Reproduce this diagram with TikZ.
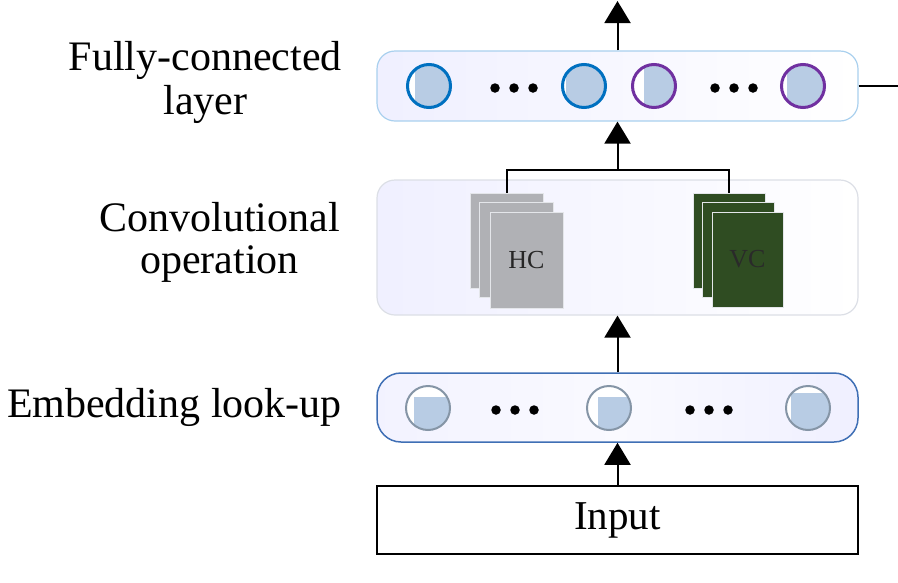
\documentclass[tikz,border=0pt]{standalone}
\usepackage{fontspec}
\setmainfont{Liberation Serif}
\usetikzlibrary{arrows.meta}
\definecolor{fcblue}{HTML}{0070C0}
\definecolor{fcpurple}{HTML}{7030A0}
\definecolor{cfill}{HTML}{B8CCE4}
\definecolor{embring}{HTML}{8595A6}
\definecolor{fcborder}{HTML}{A9D0EE}
\definecolor{convborder}{HTML}{DCDFE6}
\definecolor{embborder}{HTML}{3F6FB5}
\definecolor{hcgray}{HTML}{B0B1B5}
\definecolor{vcgreen}{HTML}{2F4C22}
\definecolor{pageedge}{HTML}{E4E6EA}
\definecolor{vctext}{HTML}{2A2A2A}
\begin{document}
\begin{tikzpicture}[x=1pt,y=-1pt,
  conn/.style={line width=2pt,black},
  arr/.style={conn,-{Triangle[width=26pt,length=22pt]}},
  layerbox/.style={rounded corners=18pt,minimum width=481pt,inner sep=0pt},
  lbl/.style={font=\fontsize{42}{44}\selectfont,align=center,inner sep=0pt,anchor=base east},
  fcc/.style={circle,minimum size=43pt,inner sep=0pt,line width=3pt,draw=#1,fill=white},
  embc/.style={circle,minimum size=44pt,inner sep=0pt,line width=2pt,draw=embring,fill=white},
  dotc/.style={circle,fill=black,minimum size=9.5pt,inner sep=0pt},
  hcpage/.style={fill=hcgray,draw=pageedge,line width=0.8pt,minimum width=73pt,minimum height=95pt,inner sep=0pt},
  vcpage/.style={fill=vcgreen,draw=pageedge,line width=0.8pt,minimum width=72pt,minimum height=95pt,inner sep=0pt}
]
\useasboundingbox (0,0) rectangle (898,582);

% layer boxes
\node[layerbox,draw=fcborder,line width=1.2pt,minimum height=70pt,left color=blue!6!white,right color=white] (fc) at (617.5,86) {};
\node[layerbox,draw=convborder,line width=1.2pt,minimum height=135pt,left color=blue!6!white,right color=white] (conv) at (617.5,247.5) {};
\node[layerbox,rounded corners=24pt,draw=embborder,line width=1.5pt,minimum height=69pt,left color=blue!5!white,right color=blue!6!white,middle color=blue!2!white] (emb) at (617.5,407.5) {};
\node[draw=black,line width=1.5pt,minimum width=481pt,minimum height=68pt,inner sep=0pt,font=\fontsize{41}{44}\selectfont] (inp) at (617.5,520) {Input};

% labels
\node[lbl] (lfc) at (342,114) {Fully-connected\\layer};
\node[lbl,font=\fontsize{42}{42}\selectfont] (lconv) at (340,273) {Convolutional\\operation};
\node[lbl] (lemb) at (342,417) {Embedding look-up};

% FC circles
\node[fcc=fcblue,path picture={\fill[cfill] ([xshift=-14pt]path picture bounding box.center |- path picture bounding box.north) rectangle (path picture bounding box.south east);}] (f1) at (429,86) {};
\node[fcc=fcblue,path picture={\fill[cfill] ([xshift=-18pt]path picture bounding box.center |- path picture bounding box.north) rectangle (path picture bounding box.south east);}] (f2) at (584,86) {};
\node[fcc=fcpurple,path picture={\fill[cfill] ([xshift=-10pt]path picture bounding box.center |- path picture bounding box.north) rectangle (path picture bounding box.south east);}] (f3) at (654,86) {};
\node[fcc=fcpurple,path picture={\fill[cfill] ([xshift=-16pt]path picture bounding box.center |- path picture bounding box.north) rectangle (path picture bounding box.south east);}] (f4) at (803,86) {};
\foreach \x/\n in {495/a,514/b,533/c,715/d,734/e,753/f}{\node[dotc] (fd\n) at (\x,88) {};}

% embedding circles
\node[embc,path picture={\fill[cfill] ([xshift=-14pt,yshift=11pt]path picture bounding box.center) rectangle (path picture bounding box.south east);}] (e1) at (428,408) {};
\node[embc,path picture={\fill[cfill] ([xshift=-11pt,yshift=11pt]path picture bounding box.center) rectangle (path picture bounding box.south east);}] (e2) at (609,408) {};
\node[embc,path picture={\fill[cfill] ([xshift=-17pt,yshift=15pt]path picture bounding box.center) rectangle (path picture bounding box.south east);}] (e3) at (808,408) {};
\foreach \x/\n in {496/a,515/b,534/c,690/d,709/e,728/f}{\node[dotc] (ed\n) at (\x,410) {};}

% HC stack
\node[hcpage] (hc1) at (506.5,240.5) {};
\node[hcpage,minimum width=74pt] (hc2) at (516,249.5) {};
\node[hcpage,minimum height=96pt,font=\fontsize{26}{26}\selectfont,text=black!85] (hc3) at (526.5,260) {HC};
% VC stack
\node[vcpage] (vc1) at (729,240.5) {};
\node[vcpage] (vc2) at (738,249.5) {};
\node[vcpage,minimum width=71pt,font=\fontsize{26}{26}\selectfont,text=vctext] (vc3) at (747.5,259.5) {VC};

% connectors
\coordinate (bm) at (617.5,170);
\coordinate (top) at (617.5,1);
\coordinate (rend) at (898,86);
\draw[conn] (hc1.north) -- (hc1.north |- bm) -- (vc1.north |- bm) -- (vc1.north);
\draw[arr] (bm) -- (fc.south);
\draw[arr] (fc.north) -- (top);
\draw[conn] (fc.east) -- (rend);
\draw[arr] (emb.north) -- (conv.south);
\draw[arr] (inp.north) -- (emb.south);
\end{tikzpicture}
\end{document}
